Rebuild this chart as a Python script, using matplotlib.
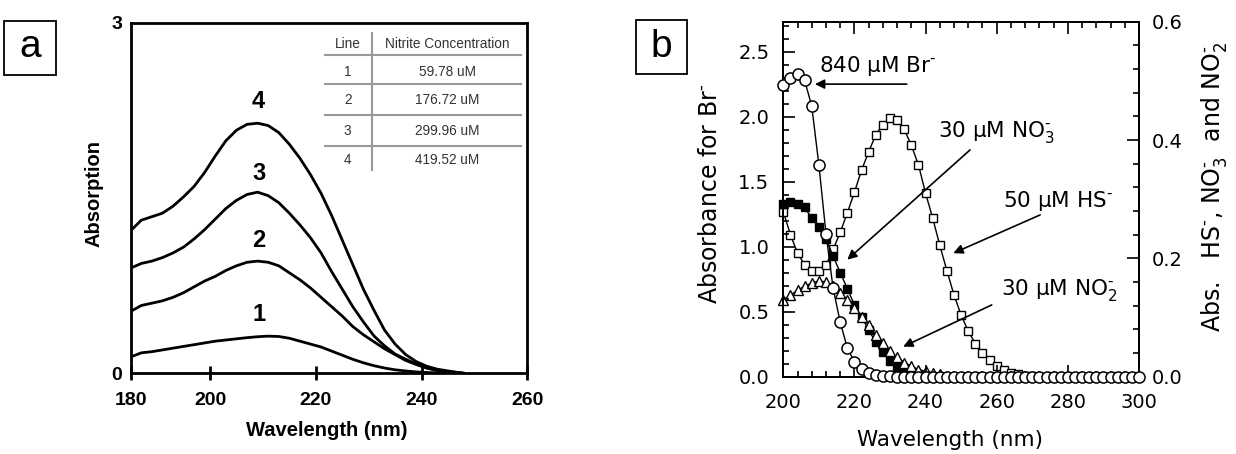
import numpy as np
import matplotlib
matplotlib.use("Agg")
import matplotlib.pyplot as plt
from matplotlib.patches import Rectangle
from matplotlib.ticker import MultipleLocator, FormatStrFormatter

# ---- panel a data: nitrite spectra ----
wl_a = [185, 187, 189, 191, 193, 195, 197, 199, 201, 203, 205, 207, 209, 211, 213, 215,
        217, 219, 221, 223, 225, 227, 229, 231, 233, 235, 237, 239, 241, 243, 245, 248]
curve1 = [0.14, 0.175, 0.185, 0.20, 0.215, 0.23, 0.245, 0.26, 0.275, 0.285, 0.295, 0.305, 0.313, 0.318,
          0.315, 0.30, 0.275, 0.25, 0.225, 0.19, 0.155, 0.12, 0.09, 0.065, 0.045, 0.03, 0.02, 0.012,
          0.007, 0.004, 0.002, 0.0]
curve2 = [0.53, 0.58, 0.60, 0.62, 0.65, 0.69, 0.74, 0.79, 0.83, 0.88, 0.92, 0.95, 0.96, 0.95, 0.92, 0.86,
          0.80, 0.73, 0.65, 0.57, 0.49, 0.40, 0.33, 0.27, 0.21, 0.16, 0.11, 0.075, 0.045, 0.025, 0.012, 0.0]
curve3 = [0.90, 0.94, 0.96, 0.99, 1.03, 1.08, 1.15, 1.23, 1.32, 1.41, 1.48, 1.53, 1.55, 1.52, 1.46, 1.37,
          1.27, 1.16, 1.03, 0.87, 0.72, 0.57, 0.44, 0.32, 0.235, 0.165, 0.12, 0.08, 0.045, 0.025, 0.015, 0.0]
curve4 = [1.22, 1.31, 1.34, 1.37, 1.43, 1.51, 1.60, 1.72, 1.86, 1.99, 2.08, 2.13, 2.14, 2.12, 2.06, 1.96,
          1.84, 1.70, 1.54, 1.35, 1.14, 0.93, 0.72, 0.54, 0.37, 0.25, 0.16, 0.10, 0.06, 0.035, 0.02, 0.0]
curve_ids = ["1", "2", "3", "4"]
curve_label_y = [0.50, 1.14, 1.71, 2.33]
curve_label_x = 209.2

a_tick_pos = [185, 200, 220, 240, 260]
a_tick_labels = ["180", "200", "220", "240", "260"]

table_lines = ["1", "2", "3", "4"]
table_conc = ["59.78 uM", "176.72 uM", "299.96 uM", "419.52 uM"]

# ---- panel b data: interferent spectra (2 nm steps) ----
wl_br = np.arange(200, 301, 2)
br = [2.24, 2.30, 2.33, 2.28, 2.08, 1.63, 1.10, 0.68, 0.42, 0.22, 0.115, 0.06, 0.03, 0.015, 0.008, 0.004,
      0.0, 0.0, 0.0, 0.0, 0.0, 0.0, 0.0, 0.0, 0.0, 0.0, 0.0, 0.0, 0.0, 0.0, 0.0, 0.0, 0.0, 0.0, 0.0,
      0.0, 0.0, 0.0, 0.0, 0.0, 0.0, 0.0, 0.0, 0.0, 0.0, 0.0, 0.0, 0.0, 0.0, 0.0, 0.0]
wl_hs = np.arange(200, 271, 2)
hs = [0.279, 0.240, 0.209, 0.189, 0.178, 0.178, 0.189, 0.215, 0.244, 0.277, 0.312, 0.349, 0.380, 0.409,
      0.426, 0.437, 0.434, 0.418, 0.391, 0.358, 0.310, 0.268, 0.222, 0.179, 0.138, 0.104, 0.077, 0.056,
      0.040, 0.028, 0.018, 0.011, 0.007, 0.004, 0.002, 0.001]
wl_no3 = np.arange(200, 239, 2)
no3 = [0.292, 0.295, 0.292, 0.286, 0.268, 0.253, 0.233, 0.204, 0.176, 0.149, 0.121, 0.101, 0.079, 0.058,
       0.041, 0.026, 0.016, 0.010, 0.007, 0.004]
wl_no2 = np.arange(200, 247, 2)
no2 = [0.130, 0.138, 0.146, 0.153, 0.158, 0.162, 0.160, 0.154, 0.142, 0.130, 0.116, 0.101, 0.087, 0.071,
       0.057, 0.044, 0.033, 0.024, 0.018, 0.012, 0.009, 0.007, 0.004, 0.002]

W, H = 1236, 454
fig = plt.figure(figsize=(W / 100, H / 100), dpi=100)

# ---------------- panel a ----------------
ax = fig.add_axes([130.7 / W, 1 - 373.3 / H, (527.3 - 130.7) / W, (373.3 - 22.7) / H])
bold = dict(family="Liberation Sans", weight="bold")
for ys in [curve1, curve2, curve3, curve4]:
    ax.plot(wl_a, ys, color="black", lw=2.0, solid_joinstyle="round")
for cid, cy in zip(curve_ids, curve_label_y):
    ax.text(curve_label_x, cy, cid, ha="center", va="center", fontsize=17, **bold)

ax.set_xlim(185, 260)
ax.set_ylim(0, 3)
ax.set_xticks(a_tick_pos)
ax.set_xticklabels(a_tick_labels)
ax.set_yticks([0, 3])
ax.set_yticklabels(["0", "3"])
ax.tick_params(axis="x", direction="inout", length=9.5, width=2, pad=9, labelsize=14)
ax.tick_params(axis="y", length=0, pad=6, labelsize=14)
for lab in ax.get_xticklabels() + ax.get_yticklabels():
    lab.set_family("Liberation Sans")
    lab.set_weight("bold")
for s in ax.spines.values():
    s.set_linewidth(2)

ax.set_xlabel("Wavelength (nm)", fontsize=14.5, **bold)
ax.xaxis.set_label_coords(0.495, -0.162)
ax.xaxis.label.set_va("center")
ax.set_ylabel("Absorption", fontsize=14.5, **bold)
ax.yaxis.set_label_coords(-0.092, 0.513)
ax.yaxis.label.set_va("center")

# inset table
tcol = "#333333"
gcol = "#999999"
tf = dict(family="Liberation Sans", fontsize=9.8, color=tcol, ha="center", va="center", transform=ax.transAxes)
ax.plot([0.6077, 0.6077], [0.9698, 0.5799], color=gcol, lw=1.5, transform=ax.transAxes)
for yl in [0.9079, 0.8243, 0.7367, 0.6492]:
    ax.plot([0.4899, 0.9834], [yl, yl], color=gcol, lw=1.5, transform=ax.transAxes)
ax.text(0.5472, 0.9393, "Line", **tf)
ax.text(0.7988, 0.9393, "Nitrite Concentration", **tf)
for ty, ln, cc in zip([0.8602, 0.7795, 0.6911, 0.6084], table_lines, table_conc):
    ax.text(0.5472, ty, ln, **tf)
    ax.text(0.7988, ty, cc, **tf)

# ---------------- panel b ----------------
bx = fig.add_axes([783.3 / W, 1 - 376.7 / H, (1139 - 783.3) / W, (376.7 - 21.7) / H])
bx2 = bx.twinx()

bx2.plot(wl_hs, hs, "s-", color="black", lw=1.0, ms=5.5, mfc="white", mec="black", mew=1.0, clip_on=False)
bx2.plot(wl_no3, no3, "s-", color="black", lw=1.0, ms=5.5, mfc="black", mec="black", mew=1.0, clip_on=False)
bx2.plot(wl_no2, no2, "^-", color="black", lw=1.0, ms=6.5, mfc="white", mec="black", mew=1.0, clip_on=False)
bx.plot(wl_br, br, "o-", color="black", lw=1.0, ms=8, mfc="white", mec="black", mew=1.1, clip_on=False, zorder=3)
bx.set_zorder(bx2.get_zorder() + 1)
bx.patch.set_visible(False)

bx.set_xlim(200, 300)
bx.set_ylim(0, 2.73)
bx2.set_ylim(0, 0.6)
bx.xaxis.set_major_locator(MultipleLocator(20))
bx.xaxis.set_minor_locator(MultipleLocator(4))
bx.yaxis.set_major_locator(MultipleLocator(0.5))
bx.yaxis.set_minor_locator(MultipleLocator(0.1))
bx.yaxis.set_major_formatter(FormatStrFormatter("%.1f"))
bx2.yaxis.set_major_locator(MultipleLocator(0.2))
bx2.yaxis.set_minor_locator(MultipleLocator(0.04))
bx2.yaxis.set_major_formatter(FormatStrFormatter("%.1f"))

bx.tick_params(axis="x", which="both", direction="in", top=True, width=1.2, labelsize=14, pad=12)
bx.tick_params(axis="y", which="both", direction="in", right=False, width=1.2, labelsize=14, pad=10)
bx2.tick_params(axis="y", which="both", direction="in", width=1.2, labelsize=14, pad=9)
for a_ in (bx, bx2):
    a_.tick_params(which="major", length=8.5)
    a_.tick_params(which="minor", length=4.5)
    for s in a_.spines.values():
        s.set_linewidth(1.4)

SUP = r"^{\text{-}}"
bx.set_xlabel("Wavelength (nm)", fontsize=15.5)
bx.xaxis.set_label_coords(0.468, -0.178)
bx.xaxis.label.set_va("center")
bx.set_ylabel(r"Absorbance for Br$" + SUP + "$", fontsize=17)
bx.yaxis.set_label_coords(-0.206, 0.515)
bx.yaxis.label.set_va("center")
bx2.set_ylabel(r"Abs.   HS$" + SUP + r"$, NO$_3" + SUP + r"$  and NO$_2" + SUP + "$", fontsize=17)
bx2.yaxis.set_label_coords(1.21, 0.536)
bx2.yaxis.label.set_va("center")

arrow = dict(arrowstyle="-|>", color="black", lw=1.2, mutation_scale=14, shrinkA=0, shrinkB=0)
bx.annotate("", xy=(208.9, 2.25), xytext=(234.7, 2.25), arrowprops=arrow)
bx.annotate("", xy=(218.0, 0.90), xytext=(252.5, 1.744), arrowprops=arrow)
bx.annotate("", xy=(247.8, 0.95), xytext=(272.2, 1.244), arrowprops=arrow)
bx.annotate("", xy=(233.7, 0.231), xytext=(258.6, 0.552), arrowprops=arrow)
bx.text(210.1, 2.346, r"840 µM Br$" + SUP + "$", fontsize=15.5, va="baseline")
bx.text(243.5, 1.846, r"30 µM NO$_3" + SUP + "$", fontsize=15.5, va="baseline")
bx.text(261.9, 1.308, r"50 µM HS$" + SUP + "$", fontsize=15.5, va="baseline")
bx.text(261.3, 0.626, r"30 µM NO$_2" + SUP + "$", fontsize=15.5, va="baseline")

# panel letters
for (x0, y0, x1, y1), letter, (cx, cy) in [((4.3, 20.7, 56, 75), "a", (30, 47)),
                                            ((636, 20, 686.7, 74), "b", (661.7, 46.7))]:
    fig.patches.append(Rectangle((x0 / W, 1 - y1 / H), (x1 - x0) / W, (y1 - y0) / H,
                                 transform=fig.transFigure, fill=False, lw=1.3, ec="black"))
    fig.text(cx / W, 1 - cy / H, letter, ha="center", va="center", fontsize=28, family="Liberation Sans")

fig.savefig("out.png", dpi=100)
